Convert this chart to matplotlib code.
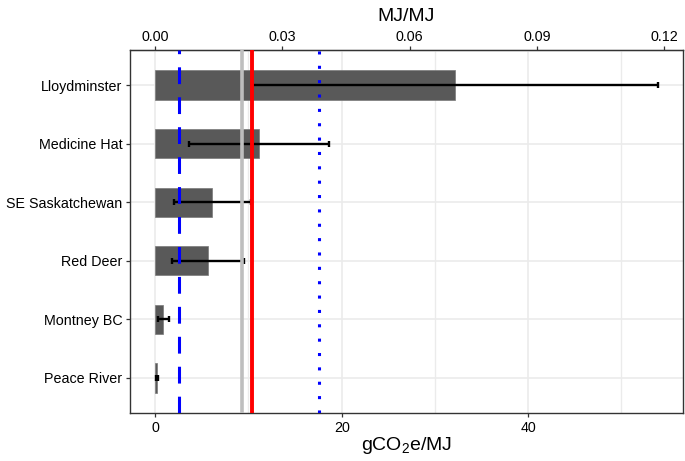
import matplotlib
matplotlib.use("Agg")
import matplotlib.pyplot as plt
import numpy as np

# data (gCO2e/MJ)
sites = ["Lloydminster", "Medicine Hat", "SE Saskatchewan", "Red Deer", "Montney BC", "Peace River"]
mean = [32.2, 11.1, 6.1, 5.7, 0.85, 0.15]
low = [10.4, 3.6, 2.0, 1.8, 0.25, 0.05]
high = [53.9, 18.6, 10.3, 9.5, 1.5, 0.3]

# reference lines
ref_dashed = 2.6
ref_gray = 9.35
ref_red = 10.35
ref_dotted = 17.6

# conversion for the top axis: gCO2e/MJ -> MJ/MJ
factor = 455.0
top_ticks = [0.00, 0.03, 0.06, 0.09, 0.12]

plt.rcParams["font.family"] = ["Liberation Sans", "DejaVu Sans"]
plt.rcParams["mathtext.default"] = "regular"

fig = plt.figure(figsize=(6.85, 4.61), dpi=100, facecolor="white")
ax = fig.add_axes([130 / 685, 48 / 461, 553 / 685, 363 / 461])

ypos = np.arange(len(sites))[::-1] + 1
mean_a = np.array(mean)
err = np.vstack([mean_a - np.array(low), np.array(high) - mean_a])

ax.barh(ypos, mean, height=0.5, color="#595959", edgecolor="#7a7a7a", linewidth=0.5, zorder=2)
ax.errorbar(mean, ypos, xerr=err, fmt="none", ecolor="black", elinewidth=1.7,
            capsize=2.5, capthick=1.7, zorder=3)

ax.axvline(ref_gray, color="#bebebe", linewidth=2.6, zorder=4)
ax.axvline(ref_red, color="#ff0000", linewidth=2.8, zorder=5)
ax.axvline(ref_dashed, color="#0000ff", linewidth=2.2, dashes=(5.5, 4.3), zorder=6)
ax.axvline(ref_dotted, color="#0000ff", linewidth=2.2, dashes=(1, 3.7), zorder=6)

ax.set_xlim(-2.7, 56.6)
ax.set_ylim(0.4, 6.6)
ax.set_xticks([0, 20, 40])
ax.set_xticks([10, 30, 50], minor=True)
ax.set_yticks(ypos)
ax.set_yticklabels(sites)

ax.grid(True, which="major", color="#ebebeb", linewidth=1.2, zorder=0)
ax.grid(True, which="minor", axis="x", color="#ebebeb", linewidth=1.0, zorder=0)
ax.set_axisbelow(True)

for s in ax.spines.values():
    s.set_color("#333333")
    s.set_linewidth(1.0)

ax.tick_params(axis="both", which="major", labelsize=10.3, length=3, width=0.9,
               color="#333333", labelcolor="black", pad=2.5)
ax.tick_params(axis="x", which="minor", length=0)
ax.set_xlabel("gCO$_2$e/MJ", fontsize=14, labelpad=0)

sec = ax.secondary_xaxis("top", functions=(lambda x: x / factor, lambda x: x * factor))
sec.set_xticks(top_ticks)
sec.set_xticklabels([f"{t:.2f}" for t in top_ticks])
sec.tick_params(labelsize=10.3, length=3, width=0.9, color="#333333", labelcolor="black", pad=1.5)
sec.set_xlabel("MJ/MJ", fontsize=14, labelpad=6)

fig.savefig("out.png", dpi=100, facecolor="white")
